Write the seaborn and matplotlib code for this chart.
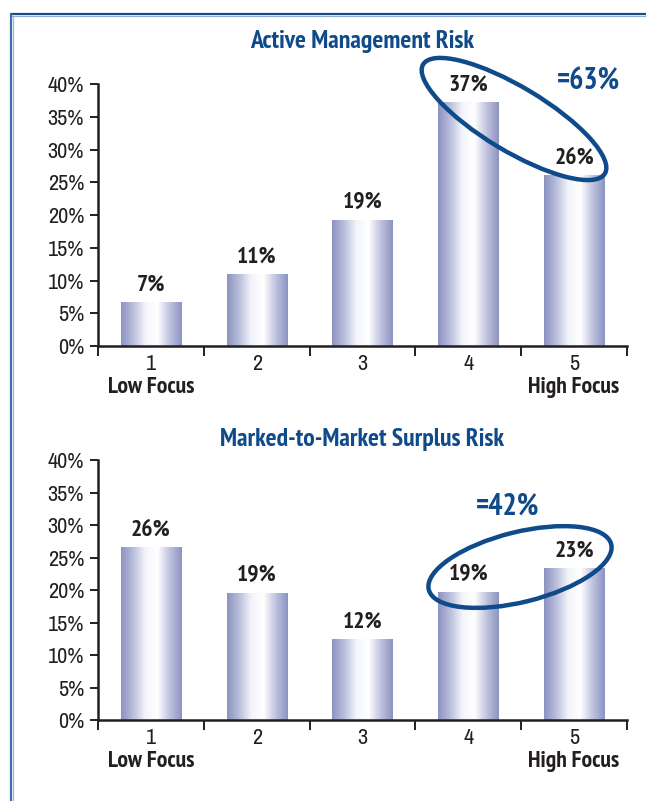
import numpy as np
import pandas as pd
import matplotlib
matplotlib.use("Agg")
import matplotlib.pyplot as plt
from matplotlib import font_manager
from matplotlib.font_manager import FontProperties
from matplotlib.colors import LinearSegmentedColormap
from matplotlib.patches import Ellipse
from matplotlib.lines import Line2D
import seaborn as sns

# data
focus = ["1", "2", "3", "4", "5"]
active_risk = [6.7, 11.0, 19.3, 37.3, 26.1]
active_labels = ["7%", "11%", "19%", "37%", "26%"]
surplus_risk = [26.6, 19.6, 12.5, 19.7, 23.4]
surplus_labels = ["26%", "19%", "12%", "19%", "23%"]
yticks = [0, 5, 10, 15, 20, 25, 30, 35, 40]
active_total = "=63%"
surplus_total = "=42%"

sns.set_theme(style="white")


def find_font(bold):
    # upright condensed face, "Narrow" families first
    best = None
    for f in font_manager.fontManager.ttflist:
        if f.style != "normal":
            continue
        w = int(f.weight)
        if bold and w < 600:
            continue
        if not bold and not (350 <= w <= 500):
            continue
        if "Narrow" in f.name:
            rank = 0
        elif "condensed" in str(f.stretch) or "Condensed" in f.name:
            rank = 1
        else:
            continue
        if best is None or rank < best[0]:
            best = (rank, f.fname)
    return best[1] if best else None


reg_path = find_font(False)
bold_path = find_font(True)


def fp(size, bold=False):
    path = bold_path if bold else reg_path
    if path:
        return FontProperties(fname=path, size=size)
    return FontProperties(family="Liberation Sans", size=size * 0.84,
                          weight="bold" if bold else "normal")


NAVY = "#0f4a8a"
INK = "#231f20"
bar_cmap = LinearSegmentedColormap.from_list(
    "bar", ["#8c93c1", "#b9bedb", "#f4f5fa", "#ffffff", "#bfc3de", "#8c93c1"])

fig = plt.figure(figsize=(6.46, 8.01), dpi=100)
ax_top = fig.add_axes([0.1517, 0.568, 0.8189, 0.327])
ax_bot = fig.add_axes([0.1517, 0.1011, 0.8189, 0.3246])

# frame lines (dark + light blue)
fig.add_artist(Line2D([11 / 646, 1], [1 - 14 / 801] * 2, color="#1b4b84", lw=1.6))
fig.add_artist(Line2D([11 / 646, 1], [1 - 15.5 / 801] * 2, color="#8fb0d9", lw=0.9))
fig.add_artist(Line2D([11 / 646] * 2, [0, 1 - 14 / 801], color="#3d6fb0", lw=1.6))
fig.add_artist(Line2D([12.5 / 646] * 2, [0, 1 - 15.5 / 801], color="#9ab8de", lw=0.9))


def draw_panel(ax, values, labels, title, title_pad):
    df = pd.DataFrame({"focus": focus, "risk": values})
    sns.barplot(data=df, x="focus", y="risk", color="#9aa0c8", width=0.57,
                ax=ax, saturation=1)
    grad = np.linspace(0, 1, 256).reshape(1, -1)
    for bar in ax.patches:
        x0, y0 = bar.get_x(), bar.get_y()
        w, h = bar.get_width(), bar.get_height()
        im = ax.imshow(grad, cmap=bar_cmap, aspect="auto",
                       extent=[x0, x0 + w, y0, y0 + h], zorder=2)
        im.set_clip_path(bar)
        bar.set_facecolor("none")
        bar.set_edgecolor("none")
    for i, (v, lab) in enumerate(zip(values, labels)):
        ax.text(i, v + 1.0, lab, ha="center", va="bottom", color=INK,
                fontproperties=fp(17, True))
    ax.set_xlim(-0.5, 4.5)
    ax.set_ylim(0, 40)
    ax.set_yticks(yticks)
    ax.set_yticklabels([f"{t}%" for t in yticks], color=INK)
    ax.set_xticks(range(5))
    ax.set_xticklabels(focus, color=INK)
    for lab in ax.get_xticklabels() + ax.get_yticklabels():
        lab.set_fontproperties(fp(16))
    ax.set_xticks(np.arange(-0.5, 5, 1), minor=True)
    ax.tick_params(axis="x", which="major", length=0, pad=6)
    ax.tick_params(axis="x", which="minor", length=7, width=1.4, color=INK,
                   direction="out", bottom=True)
    ax.tick_params(axis="y", length=6, width=1.4, color=INK, direction="out",
                   left=True, pad=4)
    ax.set_xlabel("")
    ax.set_ylabel("")
    for side in ["top", "right"]:
        ax.spines[side].set_visible(False)
    for side in ["left", "bottom"]:
        ax.spines[side].set_color(INK)
        ax.spines[side].set_linewidth(1.8)
    ax.set_title(title, color=NAVY, pad=title_pad, fontproperties=fp(18.5, True))
    tr = ax.get_xaxis_transform()
    ax.text(0, -0.12, "Low Focus", transform=tr, ha="center", va="top",
            color=INK, fontproperties=fp(17, True))
    ax.text(4, -0.12, "High Focus", transform=tr, ha="center", va="top",
            color=INK, fontproperties=fp(17, True))


draw_panel(ax_top, active_risk, active_labels, "Active Management Risk", 26)
draw_panel(ax_bot, surplus_risk, surplus_labels, "Marked-to-Market Surplus Risk", 10)

H = 801
# ellipses and totals, placed in pixel coordinates
fig.add_artist(Ellipse((514, H - 119), 212, 64, angle=-31, fill=False,
                       edgecolor=NAVY, lw=3.2, transform=None))
fig.add_artist(Ellipse((520, H - 567), 188, 70, angle=14, fill=False,
                       edgecolor=NAVY, lw=3.2, transform=None))
fig.text(588 / 646, 1 - 82 / H, active_total, ha="center", va="center",
         color=NAVY, fontproperties=fp(21.5, True))
fig.text(508 / 646, 1 - 507 / H, surplus_total, ha="center", va="center",
         color=NAVY, fontproperties=fp(21.5, True))

fig.savefig("out.png", dpi=100)
